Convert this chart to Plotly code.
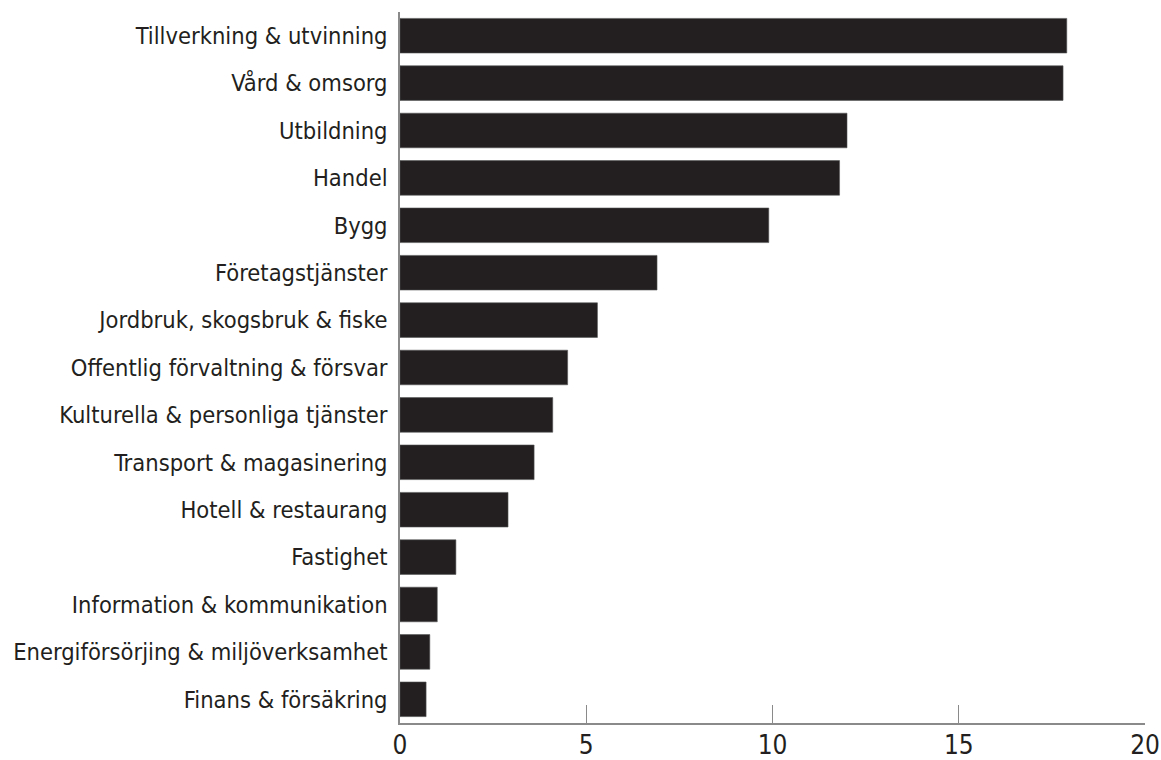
import plotly.graph_objects as go

categories = [
    "Tillverkning & utvinning",
    "Vård & omsorg",
    "Utbildning",
    "Handel",
    "Bygg",
    "Företagstjänster",
    "Jordbruk, skogsbruk & fiske",
    "Offentlig förvaltning & försvar",
    "Kulturella & personliga tjänster",
    "Transport & magasinering",
    "Hotell & restaurang",
    "Fastighet",
    "Information & kommunikation",
    "Energiförsörjing & miljöverksamhet",
    "Finans & försäkring",
]
values = [17.9, 17.8, 12.0, 11.8, 9.9, 6.9, 5.3, 4.5, 4.1, 3.6, 2.9, 1.5, 1.0, 0.8, 0.7]
x_ticks = [0, 5, 10, 15, 20]

font_family = "DejaVu Sans Condensed, Liberation Sans Narrow, sans-serif"

fig = go.Figure(
    go.Bar(
        y=categories,
        x=values,
        orientation="h",
        marker=dict(color="#231f20", line=dict(color="#555555", width=0.6)),
        hoverinfo="skip",
    )
)

fig.update_layout(
    width=1161,
    height=760,
    margin=dict(l=400, r=16, t=12, b=37),
    plot_bgcolor="white",
    paper_bgcolor="white",
    bargap=0.27,
    showlegend=False,
    font=dict(family=font_family, size=23.5, color="#231f20"),
)

fig.update_xaxes(
    range=[0, 20],
    tickvals=x_ticks,
    ticktext=[str(t) for t in x_ticks],
    showgrid=False,
    zeroline=False,
    showline=True,
    linecolor="#8a8a8a",
    linewidth=1.5,
    ticks="inside",
    ticklen=18,
    tickcolor="#8a8a8a",
    tickwidth=1.2,
    automargin=False,
    ticklabelstandoff=-2,
    tickfont=dict(family=font_family, size=26, color="#231f20"),
)

fig.update_yaxes(
    categoryorder="array",
    categoryarray=categories[::-1],
    showgrid=False,
    zeroline=False,
    showline=True,
    linecolor="#8a8a8a",
    linewidth=1.5,
    ticks="",
    ticklabelstandoff=6,
    automargin=False,
    tickfont=dict(family=font_family, size=23.5, color="#231f20"),
)

fig.write_html(
    "out.html",
    config={"displayModeBar": False},
    post_script="document.body.style.margin='0';document.body.style.overflow='hidden';",
)
